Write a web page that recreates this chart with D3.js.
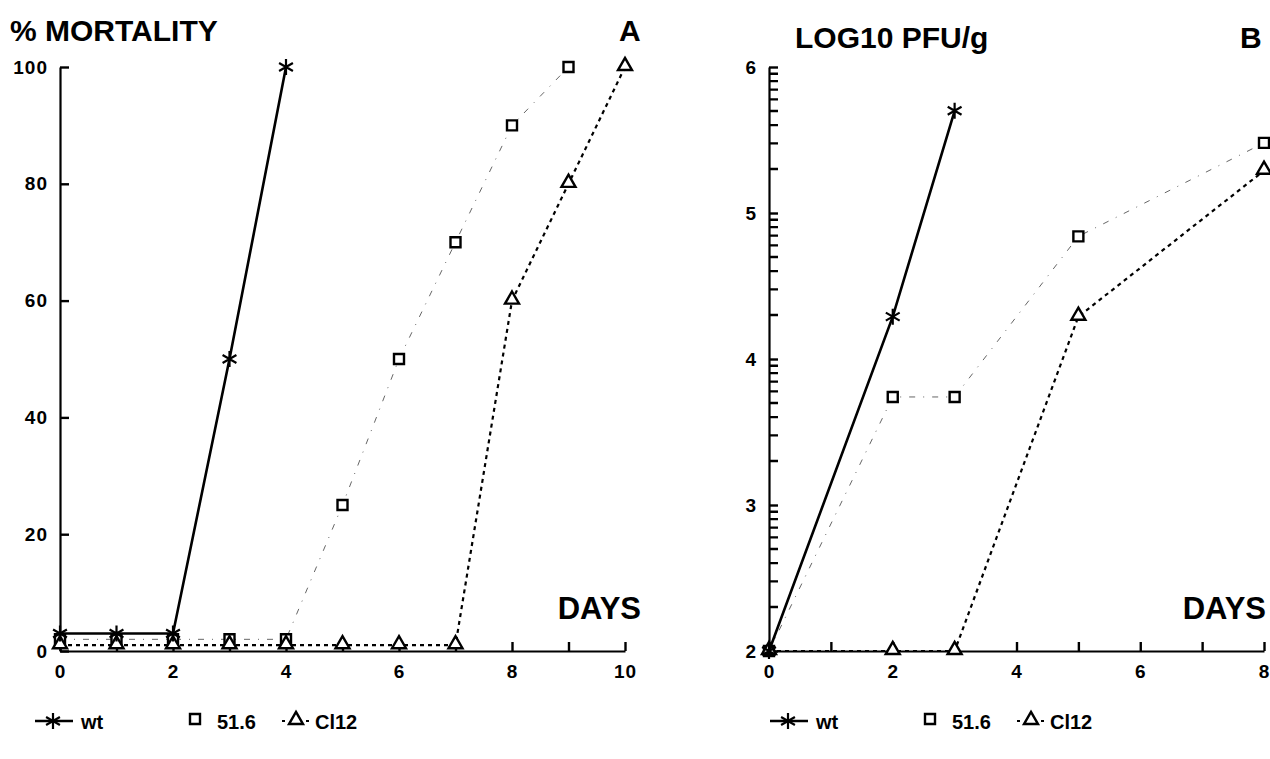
<!DOCTYPE html>
<html>
<head>
<meta charset="utf-8">
<script src="https://cdn.jsdelivr.net/npm/d3@7"></script>
<style>
  body { margin: 0; background: #fff; }
  svg { font-family: "Liberation Sans", Arial, sans-serif; font-weight: bold; }
</style>
</head>
<body>
<svg id="chart" width="1270" height="759"></svg>
<script>
// panel A : % mortality
var daysA = [0, 1, 2, 3, 4, 5, 6, 7, 8, 9, 10];
var wtA_days = [0, 1, 2, 3, 4];
var wtA = [3, 3, 3, 50, 100];
var m516A_days = [0, 1, 2, 3, 4, 5, 6, 7, 8, 9];
var m516A = [2, 2, 2, 2, 2, 25, 50, 70, 90, 100];
var cl12A_days = [0, 1, 2, 3, 4, 5, 6, 7, 8, 9, 10];
var cl12A = [1, 1, 1, 1, 1, 1, 1, 1, 60, 80, 100];
var yTicksA = [0, 20, 40, 60, 80, 100];
var xLabelsA = [0, 2, 4, 6, 8, 10];

// panel B : log10 PFU/g
var daysB = [0, 1, 2, 3, 4, 5, 6, 7, 8];
var wtB_days = [0, 2, 3];
var wtB = [2, 4.29, 5.70];
var m516B_days = [0, 2, 3, 5, 8];
var m516B = [2, 3.74, 3.74, 4.84, 5.48];
var cl12B_days = [0, 2, 3, 5, 8];
var cl12B = [2, 2, 2, 4.29, 5.29];
var yTicksB = [2, 3, 4, 5, 6];
var xLabelsB = [0, 2, 4, 6, 8];
// minor ticks of the log axis sit at log10(k), k = 2..9, inside each decade
var minorSteps = [2, 3, 4, 5, 6, 7, 8, 9];

var svg = d3.select("#chart");

function starPath(r) {
    var t = r / 2, u = t * Math.sqrt(3);
    return "M0," + r + "L0," + (-r) +
        "M" + (-u) + "," + (-t) + "L" + u + "," + t +
        "M" + (-u) + "," + t + "L" + u + "," + (-t);
}
var squarePath = d3.symbol().type(d3.symbolSquare).size(100)();
var trianglePath = d3.symbol().type(d3.symbolTriangle).size(85)();

var styles = {
    wt: { dash: null, width: 2.6, color: "#000" },
    m516: { dash: "6,8,1,8", width: 1, color: "#666" },
    cl12: { dash: "4,4", width: 2.2, color: "#000" }
};

function drawMarker(g, kind, x, y) {
    if (kind == 'wt') {
        g.append('path').attr('d', starPath(8))
            .attr('transform', 'translate(' + x + ',' + y + ')')
            .attr('stroke', '#000').attr('stroke-width', 2.2).attr('fill', 'none');
    } else if (kind == 'm516') {
        g.append('path').attr('d', squarePath)
            .attr('transform', 'translate(' + x + ',' + y + ')')
            .attr('stroke', '#000').attr('stroke-width', 2.4).attr('fill', '#fff');
    } else {
        g.append('path').attr('d', trianglePath)
            .attr('transform', 'translate(' + x + ',' + (y - 1) + ')')
            .attr('stroke', '#000').attr('stroke-width', 2.4).attr('fill', '#fff');
    }
}

function drawSeries(g, x, y, kind, days, vals) {
    var pts = days.map(function(d, i) { return [x(d), y(vals[i])]; });
    var st = styles[kind];
    g.append('path')
        .attr('d', d3.line()(pts))
        .attr('fill', 'none')
        .attr('stroke', st.color)
        .attr('stroke-width', st.width)
        .attr('stroke-dasharray', st.dash);
    for (var p of pts) {
        drawMarker(g, kind, p[0], p[1]);
    }
}

function drawLegend(g, x0, y0) {
    g.append('line').attr('x1', x0).attr('x2', x0 + 38).attr('y1', y0).attr('y2', y0)
        .attr('stroke', '#000').attr('stroke-width', 2.6);
    drawMarker(g, 'wt', x0 + 18, y0);
    g.append('text').attr('x', x0 + 46).attr('y', y0 + 8).attr('font-size', 20).text('wt');
    drawMarker(g, 'm516', x0 + 160, y0 - 2);
    g.append('text').attr('x', x0 + 182).attr('y', y0 + 8).attr('font-size', 20).text('51.6');
    g.append('line').attr('x1', x0 + 247).attr('x2', x0 + 275).attr('y1', y0).attr('y2', y0)
        .attr('stroke', '#000').attr('stroke-width', 2).attr('stroke-dasharray', '3,5');
    drawMarker(g, 'cl12', x0 + 261, y0);
    g.append('text').attr('x', x0 + 280).attr('y', y0 + 8).attr('font-size', 20).text('Cl12');
}

function styleAxis(sel) {
    sel.attr('font-family', null).attr('font-size', null);
    sel.select('.domain').attr('stroke', '#000').attr('stroke-width', 2.2);
    sel.selectAll('.tick line').attr('stroke', '#000').attr('stroke-width', 2.4);
    sel.selectAll('.tick text').style('font-size', '19px').style('font-weight', 'bold')
        .style('letter-spacing', '1px').attr('fill', '#000');
}

function drawPanel(opts) {
    var g = svg.append('g');
    var x = d3.scaleLinear().domain(opts.xDomain).range(opts.xRange);
    var y = d3.scaleLinear().domain(opts.yDomain).range(opts.yRange);

    // x axis: ticks at every day, labels on even days
    g.append('g')
        .attr('transform', 'translate(0,' + opts.yRange[0] + ')')
        .call(d3.axisBottom(x).tickValues(opts.xTicks).tickSizeInner(-9).tickSizeOuter(0)
            .tickPadding(14)
            .tickFormat(function(d) { return opts.xLabels.indexOf(d) >= 0 ? d : ''; }))
        .call(styleAxis);

    // y axis, ticks pointing into the plot
    g.append('g')
        .attr('transform', 'translate(' + opts.xRange[0] + ',0)')
        .call(d3.axisLeft(y).tickValues(opts.yTicks).tickSizeInner(-9).tickSizeOuter(0)
            .tickPadding(12).tickFormat(d3.format('d')))
        .call(styleAxis);

    if (opts.logMinor) {
        var minorVals = [];
        for (var dec = opts.yDomain[0]; dec < opts.yDomain[1]; dec++) {
            for (var s of minorSteps) minorVals.push(dec + Math.log(s) / Math.LN10);
        }
        g.append('path')
            .attr('d', minorVals.map(function(v) {
                return 'M' + opts.xRange[0] + ',' + y(v) + 'h9';
            }).join(''))
            .attr('stroke', '#000').attr('stroke-width', 2.4).attr('fill', 'none');
    }

    drawSeries(g, x, y, 'm516', opts.m516[0], opts.m516[1]);
    drawSeries(g, x, y, 'cl12', opts.cl12[0], opts.cl12[1]);
    drawSeries(g, x, y, 'wt', opts.wt[0], opts.wt[1]);

    g.append('text').attr('x', opts.title[1]).attr('y', opts.title[2])
        .attr('font-size', 30).text(opts.title[0]);
    g.append('text').attr('x', opts.letter[1]).attr('y', opts.title[2])
        .attr('font-size', 30).text(opts.letter[0]);
    g.append('text').attr('x', opts.daysX).attr('y', 619)
        .attr('font-size', 31).attr('text-anchor', 'end').text('DAYS');
    drawLegend(g, opts.legendX, 721);
}

drawPanel({
    xDomain: [0, 10], xRange: [60, 625],
    yDomain: [0, 100], yRange: [651, 67],
    xTicks: daysA, xLabels: xLabelsA, yTicks: yTicksA,
    wt: [wtA_days, wtA], m516: [m516A_days, m516A], cl12: [cl12A_days, cl12A],
    title: ['% MORTALITY', 10, 41], letter: ['A', 619],
    daysX: 641, legendX: 35
});

drawPanel({
    xDomain: [0, 8], xRange: [769, 1264],
    yDomain: [2, 6], yRange: [651, 67],
    xTicks: daysB, xLabels: xLabelsB, yTicks: yTicksB, logMinor: true,
    wt: [wtB_days, wtB], m516: [m516B_days, m516B], cl12: [cl12B_days, cl12B],
    title: ['LOG10 PFU/g', 795, 48], letter: ['B', 1240],
    daysX: 1266, legendX: 770
});
</script>
</body>
</html>
